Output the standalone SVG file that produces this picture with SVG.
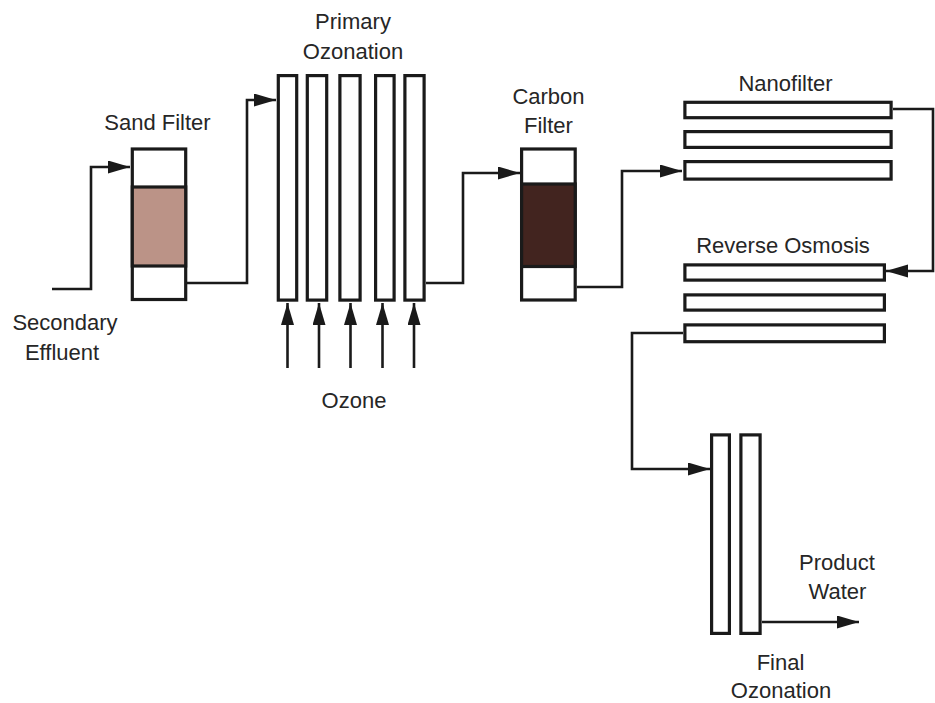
<svg xmlns="http://www.w3.org/2000/svg" width="935" height="703" viewBox="0 0 935 703">
<defs>
<marker id="ah" markerUnits="userSpaceOnUse" markerWidth="24" markerHeight="14" refX="22" refY="6.5" orient="auto">
<path d="M0,0 L22,6.5 L0,13 z" fill="#1a1a1a"/>
</marker>
<style>
.box{fill:#fff;stroke:#1a1a1a;stroke-width:3.2}
.div{stroke:#1a1a1a;stroke-width:3.2;fill:none}
.con{fill:none;stroke:#1a1a1a;stroke-width:2.6;stroke-linejoin:miter}
.arr{marker-end:url(#ah)}
text{font-family:"Liberation Sans",Arial,sans-serif;font-size:22px;fill:#262626;text-anchor:middle}
</style>
</defs>
<rect width="935" height="703" fill="#fff"/>

<g id="connectors">
<polyline class="con arr" points="52,289 91,289 91,167 130,167"/>
<polyline class="con arr" points="187,283 247,283 247,100 276,100"/>
<polyline class="con arr" points="426,283 463,283 463,173 520,173"/>
<polyline class="con arr" points="577,287 622,287 622,171 682,171"/>
<polyline class="con arr" points="893,109 933,109 933,271 886,271"/>
<polyline class="con arr" points="683,333 632,333 632,469 710,469"/>
<polyline class="con arr" points="762,622 859,622"/>
<line class="con arr" x1="287.5" y1="368" x2="287.5" y2="303"/>
<line class="con arr" x1="319" y1="368" x2="319" y2="303"/>
<line class="con arr" x1="350.5" y1="368" x2="350.5" y2="303"/>
<line class="con arr" x1="382.5" y1="368" x2="382.5" y2="303"/>
<line class="con arr" x1="414" y1="368" x2="414" y2="303"/>
</g>

<g id="sand-filter">
<rect class="box" x="132.3" y="149" width="53.4" height="150.5"/>
<rect x="132.3" y="187" width="53.4" height="79" fill="#bb9387" stroke="#1a1a1a" stroke-width="3.2"/>
<text x="157.5" y="130">Sand Filter</text>
</g>

<g id="primary-ozonation">
<rect class="box" x="278.3" y="75.6" width="18.4" height="224.5"/>
<rect class="box" x="307.3" y="75.6" width="19.4" height="224.5"/>
<rect class="box" x="339.9" y="75.6" width="20.2" height="224.5"/>
<rect class="box" x="375.6" y="75.6" width="18.5" height="224.5"/>
<rect class="box" x="404.9" y="75.6" width="19.2" height="224.5"/>
<text x="353" y="29">Primary</text>
<text x="353" y="59">Ozonation</text>
<text x="354" y="408">Ozone</text>
</g>

<g id="carbon-filter">
<rect class="box" x="521.6" y="149" width="53.6" height="151"/>
<rect x="521.6" y="184" width="53.6" height="82.5" fill="#42241f" stroke="#1a1a1a" stroke-width="3.2"/>
<text x="548.5" y="104">Carbon</text>
<text x="548.5" y="133">Filter</text>
</g>

<g id="nanofilter">
<rect class="box" x="684.9" y="102.3" width="206.2" height="15.4"/>
<rect class="box" x="684.9" y="131.6" width="206.2" height="15.8"/>
<rect class="box" x="684.9" y="161.6" width="206.2" height="17.5"/>
<text x="785.5" y="91">Nanofilter</text>
</g>

<g id="reverse-osmosis">
<rect class="box" x="684.9" y="264.9" width="199.5" height="15.2"/>
<rect class="box" x="684.9" y="294.9" width="199.5" height="15.2"/>
<rect class="box" x="684.9" y="324.9" width="199.5" height="16.8"/>
<text x="783" y="253">Reverse Osmosis</text>
</g>

<g id="final-ozonation">
<rect class="box" x="711.6" y="434.9" width="17.8" height="198.5"/>
<rect class="box" x="740.9" y="434.9" width="19.2" height="198.5"/>
<text x="780.5" y="670">Final</text>
<text x="781" y="698">Ozonation</text>
</g>

<g id="labels">
<text x="65" y="330">Secondary</text>
<text x="62" y="360">Effluent</text>
<text x="837" y="570">Product</text>
<text x="837.5" y="599">Water</text>
</g>
</svg>
